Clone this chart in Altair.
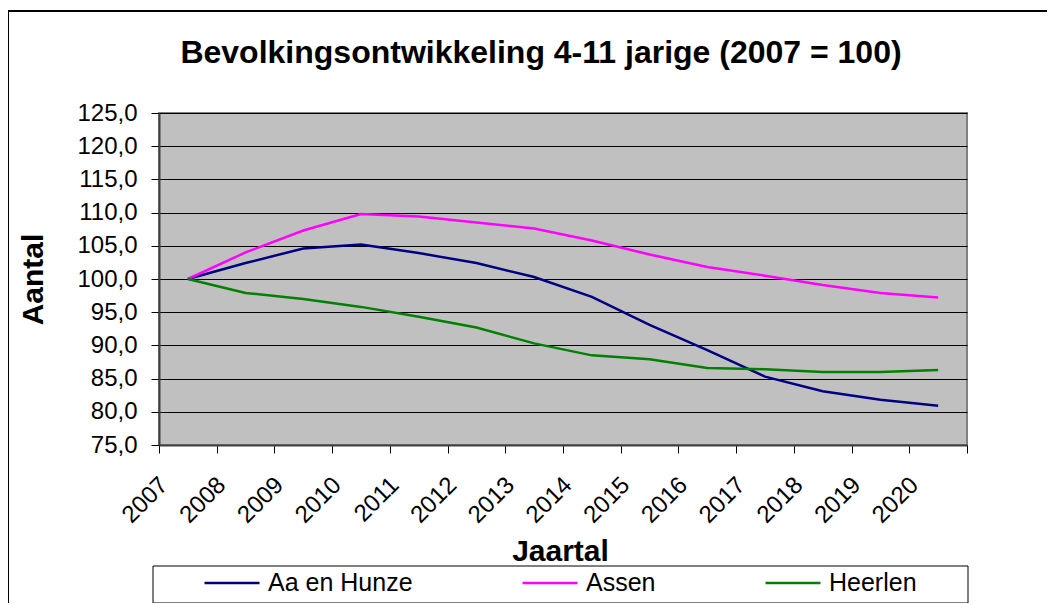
import altair as alt
import pandas as pd

# ---- data ----
years = list(range(2007, 2021))
aa_en_hunze = [100.0, 102.4, 104.6, 105.2, 103.9, 102.4, 100.3, 97.3, 93.1, 89.3, 85.3, 83.1, 81.8, 80.9]
assen = [100.0, 104.0, 107.3, 109.8, 109.4, 108.5, 107.6, 105.8, 103.7, 101.8, 100.5, 99.1, 97.9, 97.2]
heerlen = [100.0, 97.9, 97.0, 95.8, 94.3, 92.7, 90.3, 88.5, 87.9, 86.6, 86.4, 86.0, 86.0, 86.3]
series_names = ["Aa en Hunze", "Assen", "Heerlen"]
series_colors = ["#000080", "#FF00FF", "#008000"]
y_ticks = [75, 80, 85, 90, 95, 100, 105, 110, 115, 120, 125]
title_text = "Bevolkingsontwikkeling 4-11 jarige (2007 = 100)"

rows = []
for name, vals in zip(series_names, [aa_en_hunze, assen, heerlen]):
    for yr, v in zip(years, vals):
        rows.append({"Gemeente": name, "Jaar": yr, "Waarde": v})
df = pd.DataFrame(rows)

FONT = "Liberation Sans"
W, H = 808, 332

x_scale = alt.Scale(domain=[years[0], years[-1] + 1], nice=False, zero=False)
y_scale = alt.Scale(domain=[75, 125], nice=False, zero=False)

y_axis = alt.Axis(
    values=y_ticks,
    labelExpr="replace(format(datum.value, '.1f'), '.', ',')",
    labelFont=FONT, labelFontSize=24, labelColor="black", labelPadding=14,
    tickSize=8, tickColor="black", tickWidth=1,
    grid=True, gridColor="black", gridWidth=1,
    domainColor="#404040", domainWidth=2,
    title="Aantal", titleFont=FONT, titleFontSize=30, titleFontWeight="bold",
    titleColor="black", titleAngle=270, titleX=-126, titleY=H / 2,
    titleAlign="center", titleBaseline="middle",
)

x_label_axis = alt.Axis(
    orient="bottom",
    values=[yr + 0.5 for yr in years],
    labelExpr="'' + floor(datum.value)",
    labelAngle=315, labelAlign="right", labelBaseline="middle",
    labelFont=FONT, labelFontSize=24, labelColor="black",
    labelPadding=36, labelOffset=-24,
    labelOverlap=False, labelBound=False, labelFlush=False,
    ticks=False, domain=False, grid=False,
    title="Jaartal", titleFont=FONT, titleFontSize=30, titleFontWeight="bold",
    titleColor="black", titleX=401, titleY=115,
    titleAlign="center", titleBaseline="alphabetic",
)

x_tick_axis = alt.Axis(
    orient="bottom",
    values=list(range(years[0], years[-1] + 2)),
    labels=False, grid=False, title=None,
    tickSize=8, tickColor="black", tickWidth=1,
    domainColor="#404040", domainWidth=2,
)

base = alt.Chart(df).transform_calculate(pos="datum.Jaar + 0.5")

lines = base.mark_line(strokeWidth=2.5).encode(
    x=alt.X("pos:Q", scale=x_scale, axis=x_label_axis),
    y=alt.Y("Waarde:Q", scale=y_scale, axis=y_axis),
    color=alt.Color(
        "Gemeente:N",
        scale=alt.Scale(domain=series_names, range=series_colors),
        legend=alt.Legend(
            title=None, orient="none", legendX=44, legendY=441,
            direction="horizontal", columnPadding=104,
            symbolType="stroke", symbolSize=3025, symbolStrokeWidth=2.5,
            labelFont=FONT, labelFontSize=25, labelColor="black",
            labelOffset=7, padding=0, labelLimit=400,
        ),
    ),
)

ticks_layer = base.mark_point(opacity=0).encode(
    x=alt.X("pos:Q", scale=x_scale, axis=x_tick_axis),
    y=alt.Y("Waarde:Q", scale=y_scale, axis=y_axis),
)

deco = pd.DataFrame({"k": [0]})
outer_border = alt.Chart(deco).mark_rect(filled=False, stroke="black", strokeWidth=2).encode(
    x=alt.value(-151), x2=alt.value(W + 200), y=alt.value(-102), y2=alt.value(H + 300)
)
legend_box = alt.Chart(deco).mark_rect(fill="white", stroke="black", strokeWidth=1).encode(
    x=alt.value(-6), x2=alt.value(809), y=alt.value(453), y2=alt.value(490)
)
title_mark = alt.Chart(deco).mark_text(
    text=title_text, font=FONT, fontSize=32, fontWeight="bold", color="black",
    align="center", baseline="alphabetic",
).encode(x=alt.value(382), y=alt.value(-50))

chart = (
    alt.layer(outer_border, legend_box, ticks_layer, lines, title_mark)
    .resolve_axis(x="independent")
    .properties(
        width=W, height=H,
        autosize=alt.AutoSizeParams(type="none"),
        padding={"left": 151, "top": 105, "right": 80, "bottom": 158},
        background="white",
    )
    .configure_view(fill="#C0C0C0", stroke="#808080", strokeWidth=2)
)

chart.save("out.html", embed_options={"renderer": "svg", "actions": False})
